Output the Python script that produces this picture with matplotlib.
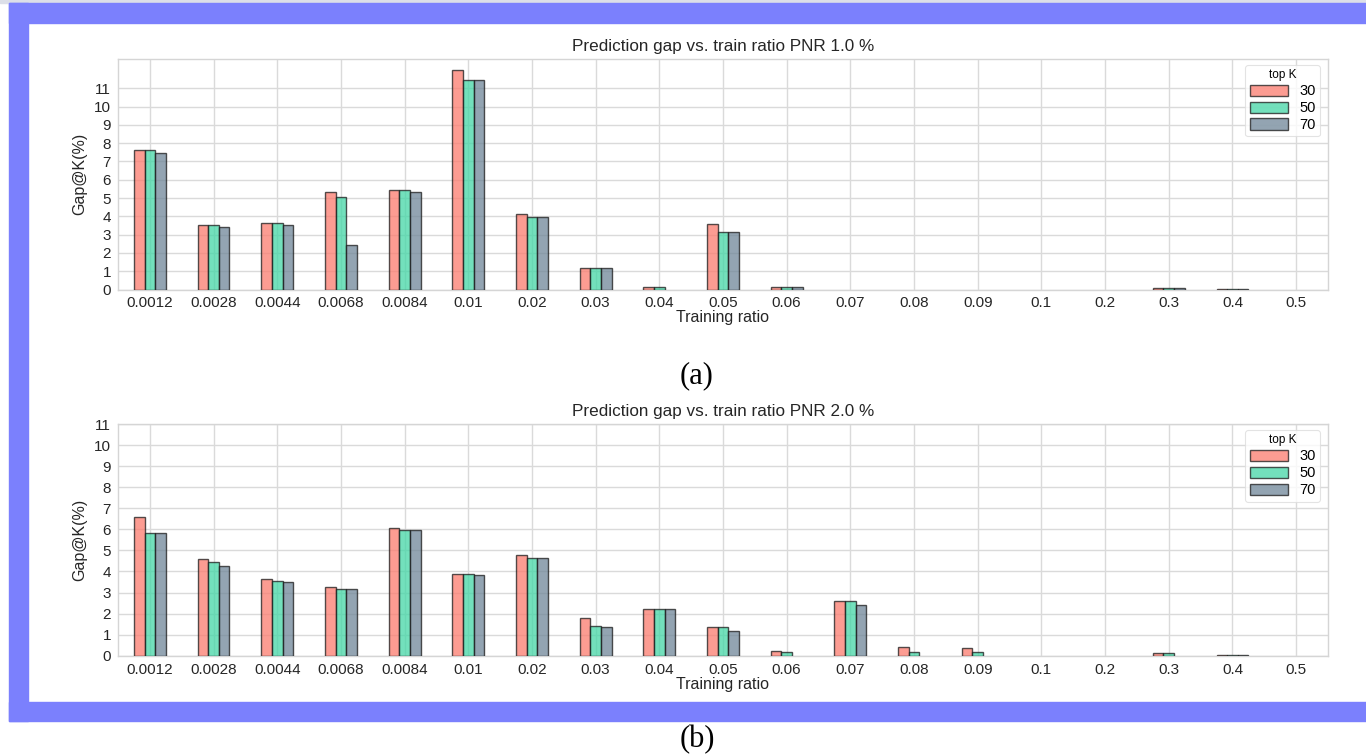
import numpy as np
import pandas as pd
import matplotlib
matplotlib.use("Agg")
import matplotlib.pyplot as plt
from matplotlib.patches import Rectangle

# training ratios on the x axis
ratios = ["0.0012", "0.0028", "0.0044", "0.0068", "0.0084", "0.01", "0.02", "0.03",
          "0.04", "0.05", "0.06", "0.07", "0.08", "0.09", "0.1", "0.2", "0.3", "0.4", "0.5"]
top_k = ["30", "50", "70"]

# PNR 1.0 %
pnr1_k30 = [7.6, 3.5, 3.65, 5.35, 5.43, 12.0, 4.15, 1.18, 0.14, 3.58, 0.15, 0, 0, 0, 0, 0, 0.09, 0.03, 0]
pnr1_k50 = [7.6, 3.5, 3.62, 5.06, 5.43, 11.44, 3.97, 1.18, 0.13, 3.15, 0.13, 0, 0, 0, 0, 0, 0.09, 0.03, 0]
pnr1_k70 = [7.47, 3.44, 3.52, 2.45, 5.33, 11.44, 3.97, 1.18, 0.0, 3.15, 0.13, 0, 0, 0, 0, 0, 0.09, 0.02, 0]

# PNR 2.0 %
pnr2_k30 = [6.58, 4.6, 3.66, 3.28, 6.04, 3.9, 4.8, 1.77, 2.21, 1.38, 0.21, 2.62, 0.4, 0.37, 0, 0, 0.12, 0.02, 0]
pnr2_k50 = [5.82, 4.45, 3.53, 3.15, 5.98, 3.86, 4.64, 1.42, 2.21, 1.38, 0.18, 2.58, 0.16, 0.19, 0, 0, 0.12, 0.02, 0]
pnr2_k70 = [5.82, 4.28, 3.51, 3.15, 5.98, 3.83, 4.64, 1.34, 2.21, 1.16, 0.0, 2.43, 0.0, 0.0, 0, 0, 0.0, 0.02, 0]

colors = ["#fc7b6e", "#44d6a6", "#6f8698"]

plt.rcParams["font.family"] = ["Liberation Sans", "DejaVu Sans"]

fig = plt.figure(figsize=(13.66, 7.56), dpi=100)
W, H = 1366.0, 756.0

# blue frame around the figure
def px_rect(x0, y0, x1, y1, c):
    fig.patches.append(Rectangle((x0 / W, 1 - y1 / H), (x1 - x0) / W, (y1 - y0) / H,
                                 transform=fig.transFigure, color=c, zorder=0))

px_rect(0, 0, 1366, 3, "#dcdfe8")
px_rect(9, 3, 1366, 23, "#7b80fd")
px_rect(9, 3, 28, 721, "#7b80fd")
px_rect(9, 702, 1366, 721, "#7b80fd")

ax1 = fig.add_axes([118 / W, 1 - 289.5 / H, 1210 / W, 230.5 / H])
ax2 = fig.add_axes([118 / W, 1 - 655.7 / H, 1210 / W, 231.7 / H])

panels = [
    (ax1, [pnr1_k30, pnr1_k50, pnr1_k70], "Prediction gap vs. train ratio PNR 1.0 %", 12.6),
    (ax2, [pnr2_k30, pnr2_k50, pnr2_k70], "Prediction gap vs. train ratio PNR 2.0 %", 11.0),
]

for ax, series, title, ytop in panels:
    df = pd.DataFrame({k: v for k, v in zip(top_k, series)}, index=ratios)
    df.plot.bar(ax=ax, width=0.5, color=colors, alpha=0.75,
                edgecolor="#1a1a1a", linewidth=1.0, zorder=3, legend=False)
    # bars of height zero leave no outline
    for p in ax.patches:
        if p.get_height() == 0:
            p.set_linewidth(0)
    ax.set_axisbelow(True)
    ax.grid(True, color="#dadada", linewidth=1.0, zorder=0)
    for s in ax.spines.values():
        s.set_color("#d5d5d5")
        s.set_linewidth(1.0)
    ax.set_xlim(-0.5, len(ratios) - 0.5)
    ax.set_ylim(0, ytop)
    ax.set_yticks(range(12))
    ax.tick_params(axis="both", length=0, labelsize=11, colors="#262626", pad=5)
    ax.set_xticklabels(ratios, rotation=0)
    ax.set_title(title, fontsize=12.3, color="#262626", pad=6)
    ax.set_xlabel("Training ratio", fontsize=11.5, color="#262626", labelpad=0)
    ax.set_ylabel("Gap@K(%)", fontsize=11.5, color="#262626", labelpad=5)
    leg = ax.legend(title="top K", loc="upper right", fontsize=10.5, title_fontsize=8.5,
                    frameon=True, borderpad=0.3, handlelength=2.6, handleheight=0.8,
                    labelspacing=0.2, borderaxespad=0, bbox_to_anchor=(0.9935, 0.974))
    leg.get_frame().set_edgecolor("#dddddd")
    leg.get_frame().set_linewidth(0.8)

fig.text(697 / W, 1 - 376 / H, "(a)", family=["Liberation Serif", "DejaVu Serif"],
         fontsize=22, ha="center", va="center")
fig.text(697 / W, 1 - 740 / H, "(b)", family=["Liberation Serif", "DejaVu Serif"],
         fontsize=22, ha="center", va="center")

fig.savefig("out.png", dpi=100)
